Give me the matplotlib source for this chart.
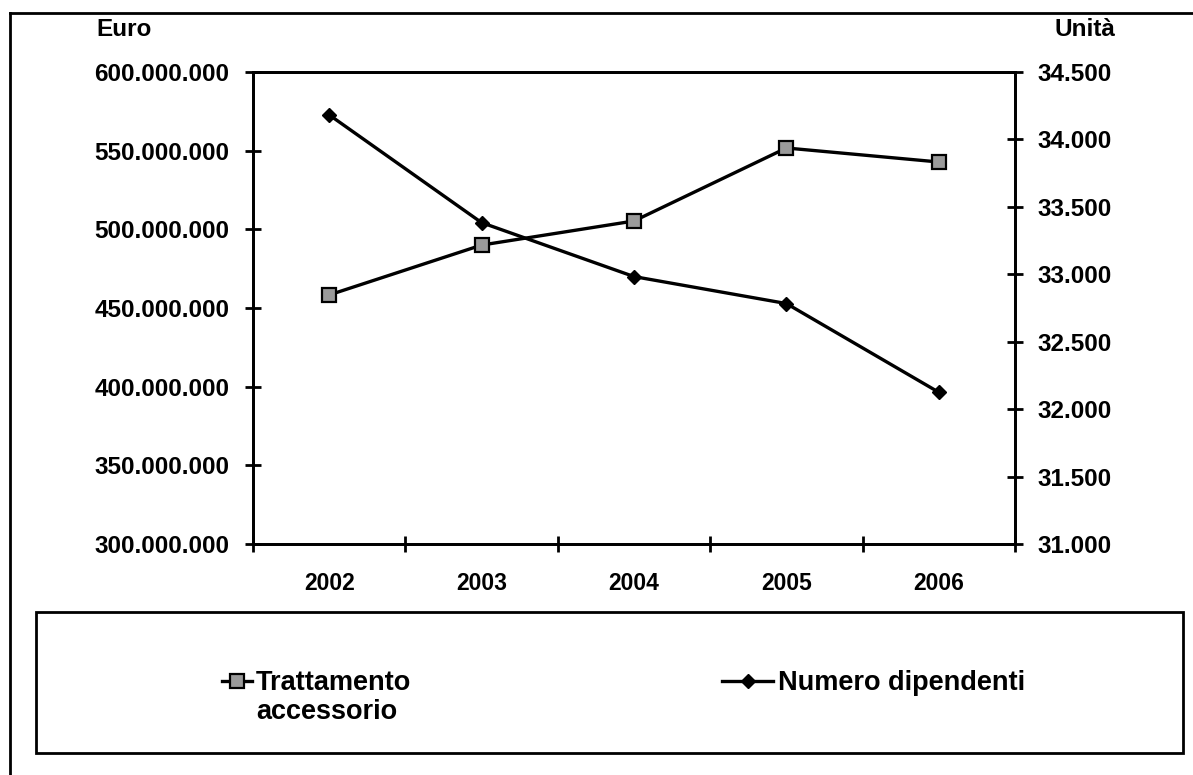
import matplotlib
matplotlib.use("Agg")
import matplotlib.pyplot as plt
from matplotlib.lines import Line2D
from matplotlib.patches import Rectangle
from matplotlib.ticker import FuncFormatter, FixedLocator

plt.rcParams['font.family'] = ['Liberation Sans', 'DejaVu Sans']

years = ["2002", "2003", "2004", "2005", "2006"]
trattamento = [458_300_000, 490_000_000, 505_300_000, 551_700_000, 542_800_000]
dipendenti = [34182, 33383, 32983, 32783, 32125]

euro_ticks = [300_000_000, 350_000_000, 400_000_000, 450_000_000,
              500_000_000, 550_000_000, 600_000_000]
unit_ticks = [31000, 31500, 32000, 32500, 33000, 33500, 34000, 34500]

W, H = 1193, 775
fig = plt.figure(figsize=(W / 100, H / 100), dpi=100)
fig.patch.set_facecolor("white")


def fx(px):
    return px / W


def fy(py):
    return 1 - py / H


ax = fig.add_axes([fx(253), fy(544), fx(1015) - fx(253), fy(72) - fy(544)])
ax2 = ax.twinx()

x = list(range(len(years)))
dot_fmt = FuncFormatter(lambda v, _: f"{v:,.0f}".replace(",", "."))

line1, = ax.plot(x, trattamento, color="black", lw=2.4, marker="s",
                 markersize=10, markerfacecolor="#9a9a9a",
                 markeredgecolor="black", markeredgewidth=1.6,
                 label="Trattamento accessorio", zorder=3)
line2, = ax2.plot(x, dipendenti, color="black", lw=2.4, marker="D",
                  markersize=7.5, markerfacecolor="black",
                  markeredgecolor="black", label="Numero dipendenti", zorder=3)

ax.set_xlim(-0.5, len(years) - 0.5)
ax.set_ylim(euro_ticks[0], euro_ticks[-1])
ax2.set_ylim(unit_ticks[0], unit_ticks[-1])

ax.xaxis.set_major_locator(FixedLocator([i - 0.5 for i in range(len(years) + 1)]))
ax.xaxis.set_major_formatter(FuncFormatter(lambda v, _: ""))
ax.set_xticks(x, minor=True)
ax.set_xticklabels(years, minor=True)
ax.tick_params(axis="x", which="major", direction="inout", length=12, width=2)
ax.tick_params(axis="x", which="minor", length=0, pad=20, labelsize=16.5)

ax.set_yticks(euro_ticks)
ax.yaxis.set_major_formatter(dot_fmt)
ax.tick_params(axis="y", direction="inout", length=12, width=2, pad=11,
               labelsize=17.5)

ax2.set_yticks(unit_ticks)
ax2.yaxis.set_major_formatter(dot_fmt)
ax2.tick_params(axis="y", direction="inout", length=12, width=2, pad=10,
                labelsize=17.5)

for a in (ax, ax2):
    for lab in a.get_yticklabels() + a.get_xticklabels(minor=True):
        lab.set_fontweight("bold")
    for s in a.spines.values():
        s.set_linewidth(2)
        s.set_color("black")

fig.text(fx(96), fy(30), "Euro", fontsize=17.5, fontweight="bold",
         ha="left", va="center")
fig.text(fx(1055), fy(30), "Unità", fontsize=17.5, fontweight="bold",
         ha="left", va="center")

# outer frame of the chart area
fig.add_artist(Line2D([fx(10), 1], [fy(13), fy(13)], color="black", lw=2,
                      transform=fig.transFigure))
fig.add_artist(Line2D([fx(10), fx(10)], [fy(13), 0], color="black", lw=2,
                      transform=fig.transFigure))

# legend box
fig.add_artist(Rectangle((fx(36), fy(753)), fx(1183) - fx(36), fy(612) - fy(753),
                         transform=fig.transFigure, fill=False,
                         edgecolor="black", lw=2))

leg_kw = dict(frameon=False, handletextpad=0.15, borderaxespad=0,
              borderpad=0, prop={"weight": "bold", "size": 19.5})
leg1 = fig.legend(handles=[line1], labels=["Trattamento"],
                  loc="upper left", bbox_to_anchor=(fx(222), fy(670)),
                  handlelength=1.1, **leg_kw)
leg2 = fig.legend(handles=[line2], labels=["Numero dipendenti"],
                  loc="upper left", bbox_to_anchor=(fx(722), fy(670)),
                  handlelength=1.9, **leg_kw)
# second line of the first legend label, wrapped under its text
fig.text(fx(256), fy(712), "accessorio", fontsize=19.5, fontweight="bold",
         ha="left", va="center")

fig.savefig("out.png", dpi=100, facecolor="white")
